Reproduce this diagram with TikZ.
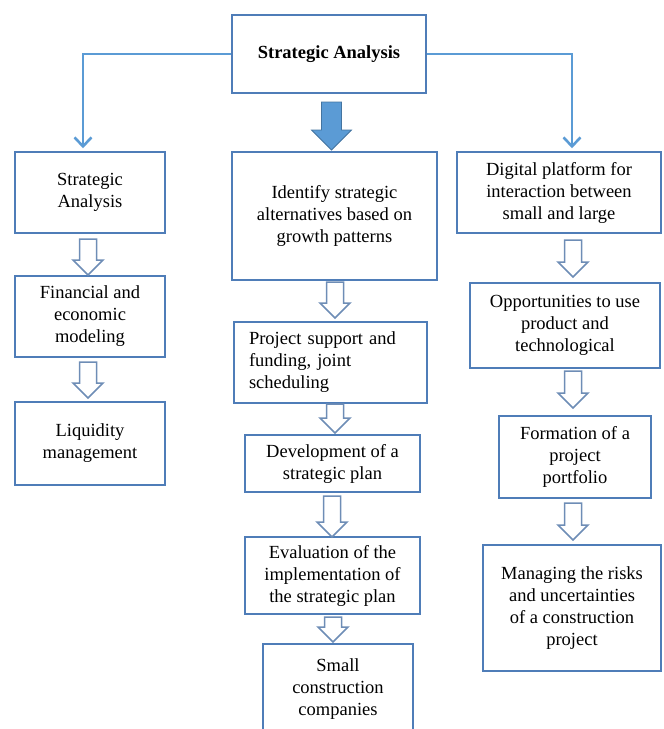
\documentclass[tikz,border=0pt]{standalone}
\usepackage{fontspec}
\setmainfont{Liberation Serif}
\usetikzlibrary{arrows.meta,shadows}

\definecolor{boxblue}{HTML}{4F7DB8}
\definecolor{lineblue}{HTML}{5B9BD5}
\definecolor{hollowblue}{HTML}{6E8DB6}

\tikzset{
    box/.style={draw=boxblue, line width=1.5pt, fill=white, align=center,
        font=\fontsize{18.5}{22}\selectfont, inner sep=3pt,
        drop shadow={opacity=0.18, shadow xshift=1.2pt, shadow yshift=-1.2pt}},
    link/.style={draw=lineblue, line width=2.6pt, shorten >=3pt,
        -{Straight Barb[length=9pt,width=17pt]}},
    hollow/.style={draw=hollowblue, line width=1.5pt, fill=white, line join=miter},
    bigarrow/.style={fill=lineblue, draw=lineblue!75!black, line width=0.8pt}
}

% block arrow: x, top y, tip y
\newcommand{\hollowarrow}[3]{%
    \draw[hollow] (#1-8.5,#2) -- (#1+8.5,#2) -- (#1+8.5,#3-15) -- (#1+15,#3-15)
        -- (#1,#3) -- (#1-15,#3-15) -- (#1-8.5,#3-15) -- cycle;}

\begin{document}
\begin{tikzpicture}[x=1pt, y=-1pt]
    \useasboundingbox (0,0) rectangle (664,729);

    % Top box
    \node[box, minimum width=194pt, minimum height=78pt, font=\fontsize{18.5}{22}\selectfont\bfseries]
        (top) at (329,54) {Strategic Analysis};

    % Left column
    \node[box, minimum width=150pt, minimum height=81pt] (l1) at (90,192.5) {Strategic\\Analysis};
    \node[box, minimum width=150pt, minimum height=81pt] (l2) at (90,316.5) {Financial and\\economic\\modeling};
    \node[box, minimum width=150pt, minimum height=83pt] (l3) at (90,443.5) {Liquidity\\management};

    % Middle column
    \node[box, minimum width=205pt, minimum height=128pt] (m1) at (334.5,216)
        {Identify strategic\\alternatives based on\\growth patterns};
    \node[box, minimum width=193pt, minimum height=81pt, align=left, text width=163pt] (m2) at (330.5,362.5)
        {Project support and\\funding, joint\\scheduling};
    \node[box, minimum width=175pt, minimum height=57pt] (m3) at (332.5,463.5) {Development of a\\strategic plan};
    \node[box, minimum width=175pt, minimum height=77pt] (m4) at (332.5,575.5)
        {Evaluation of the\\implementation of\\the strategic plan};
    \node[box, minimum width=150pt, minimum height=90pt] (m5) at (338,689) {Small\\construction\\companies};

    % Right column
    \node[box, minimum width=204pt, minimum height=81pt] (r1) at (559,192.5)
        {Digital platform for\\interaction between\\small and large};
    \node[box, minimum width=190pt, minimum height=85pt] (r2) at (565,325.5)
        {Opportunities to use\\product and\\technological};
    \node[box, minimum width=152pt, minimum height=82pt] (r3) at (575,457) {Formation of a\\project\\portfolio};
    \node[box, minimum width=178pt, minimum height=126pt] (r4) at (572,608)
        {Managing the risks\\and uncertainties\\of a construction\\project};

    % Connectors from the top box
    \draw[link] (top.west) -| ([xshift=-7pt]l1.north);
    \draw[link] (top.east) -| ([xshift=13pt]r1.north);
    \draw[bigarrow] (321.5,102) -- (341.5,102) -- (341.5,130) -- (351.5,130)
        -- (331.5,150) -- (311.5,130) -- (321.5,130) -- cycle;

    % Block arrows
    \hollowarrow{88}{239}{275}
    \hollowarrow{88}{362}{398}
    \hollowarrow{335}{282}{318}
    \hollowarrow{335}{404}{433}
    \hollowarrow{332}{496}{537}
    \hollowarrow{333}{617}{642}
    \hollowarrow{573}{240}{277}
    \hollowarrow{573}{371}{408}
    \hollowarrow{573}{503}{540}
\end{tikzpicture}
\end{document}
